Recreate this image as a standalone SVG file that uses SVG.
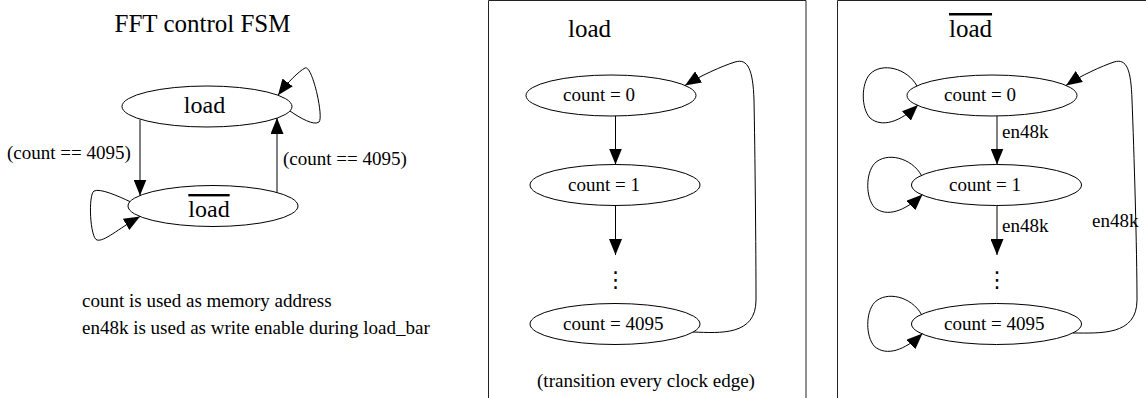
<svg xmlns="http://www.w3.org/2000/svg" width="1146" height="398" viewBox="0 0 1146 398">
  <defs>
    <marker id="arrow" viewBox="0 0 16 13" refX="16" refY="6.5" markerWidth="16" markerHeight="13" markerUnits="userSpaceOnUse" orient="auto">
      <path d="M0,0 L16,6.5 L0,13 Z" fill="#000"/>
    </marker>
  </defs>
  <style>
    text { font-family: "Liberation Serif", "Times New Roman", serif; fill: #000; }
    .state { fill: #fff; stroke: #000; stroke-width: 1; }
    .edge { fill: none; stroke: #000; stroke-width: 1; marker-end: url(#arrow); }
    .panel { fill: none; stroke: #222; stroke-width: 1; }
    .title { font-size: 25px; }
    .big { font-size: 24px; }
    .lbl { font-size: 19px; }
    .bar { text-decoration: overline; }
    .dots { font-family: "DejaVu Serif", "DejaVu Sans", serif; font-size: 22px; }
  </style>
  <rect width="1146" height="398" fill="#fff"/>

  <!-- left: top-level FSM -->
  <text class="title" x="202.5" y="32" text-anchor="middle">FFT control FSM</text>
  <g id="fsm-load">
    <ellipse class="state" cx="207" cy="106.5" rx="85" ry="20.5"/>
    <text class="big" x="204.5" y="112.5" text-anchor="middle">load</text>
  </g>
  <g id="fsm-load-bar">
    <ellipse class="state" cx="213" cy="206" rx="85" ry="20.5"/>
    <text class="big bar" x="209" y="217" text-anchor="middle">load</text>
  </g>
  <g id="notes">
    <text class="lbl" x="82" y="307">count is used as memory address</text>
    <text class="lbl" x="82" y="334">en48k is used as write enable during load_bar</text>
  </g>

  <!-- middle panel: counting while load -->
  <path class="panel" d="M488.5,400 L488.5,0.5 L806,0.5 L806,400"/>
  <text class="title" x="568" y="37">load</text>
  <g id="load-c0">
    <ellipse class="state" cx="611" cy="95.5" rx="85" ry="20.5"/>
    <text class="lbl" x="563" y="101">count = 0</text>
  </g>
  <g id="load-c1">
    <ellipse class="state" cx="615" cy="185" rx="85" ry="20.5"/>
    <text class="lbl" x="568" y="190.5">count = 1</text>
  </g>
  <g id="load-dots">
    <text class="dots" x="615.5" y="287" text-anchor="middle">⋮</text>
  </g>
  <g id="load-c4095">
    <ellipse class="state" cx="615" cy="324" rx="85" ry="20.5"/>
    <text class="lbl" x="563" y="330">count = 4095</text>
  </g>
  <text class="lbl" x="646" y="387" text-anchor="middle">(transition every clock edge)</text>

  <!-- right panel: counting while load is low -->
  <path class="panel" d="M837.5,400 L837.5,0.5 L1150,0.5"/>
  <text class="title bar" x="949" y="37">load</text>
  <g id="bar-c0">
    <ellipse class="state" cx="992" cy="95.5" rx="85" ry="20.5"/>
    <text class="lbl" x="944" y="101">count = 0</text>
  </g>
  <g id="bar-c1">
    <ellipse class="state" cx="996.5" cy="185" rx="85" ry="20.5"/>
    <text class="lbl" x="949" y="190.5">count = 1</text>
  </g>
  <g id="bar-dots">
    <text class="dots" x="997" y="287" text-anchor="middle">⋮</text>
  </g>
  <g id="bar-c4095">
    <ellipse class="state" cx="996.5" cy="324" rx="85" ry="20.5"/>
    <text class="lbl" x="944" y="330">count = 4095</text>
  </g>

  <g id="connectors">
    <!-- top-level transitions -->
    <path class="edge" d="M140,119.5 L140,195.5"/>
    <text class="lbl" x="7" y="159">(count == 4095)</text>
    <path class="edge" d="M277,192.5 L277,118"/>
    <text class="lbl" x="283" y="165">(count == 4095)</text>
    <path class="edge" d="M290,111 C300,118 314,126 319,122 C324,117 312,64 305,68 C298,72 288,82 278,95.2"/>
    <path class="edge" d="M130,201.6 C118,196 100,188 94,191 C88,195 90,238 97,240 C104,242 118,229 140,216.5"/>

    <!-- load: chain -->
    <path class="edge" d="M615.5,116 L615.5,164.5"/>
    <path class="edge" d="M615.5,205.5 L615.5,255"/>
    <path class="edge" d="M693,332 C720,333 756,336 756,300 C756,250 755,150 754,100 C753,70 748,58 735,62 C722,66 700,76 685,85.4"/>

    <!-- load bar: chain with holds -->
    <path class="edge" d="M997,116 L997,164.5"/>
    <text class="lbl" x="1002" y="138">en48k</text>
    <path class="edge" d="M997,205.5 L997,255"/>
    <text class="lbl" x="1002" y="232">en48k</text>
    <path class="edge" d="M1073,333 C1100,333 1137,336 1137,300 C1137,250 1134,150 1132,100 C1131,70 1127,58 1114,62 C1102,66 1080,76 1066,85.4"/>
    <text class="lbl" x="1092" y="227">en48k</text>
    <path class="edge" d="M917,86 C907,68 882,62 870,74 C861,84 861,108 870,118 C882,128 900,122 918,105"/>
    <path class="edge" d="M921.5,175.5 C911.5,157.5 886.5,151.5 874.5,163.5 C865.5,173.5 865.5,197.5 874.5,207.5 C886.5,217.5 904.5,211.5 922.5,194.5"/>
    <path class="edge" d="M921.5,314.5 C911.5,296.5 886.5,290.5 874.5,302.5 C865.5,312.5 865.5,336.5 874.5,346.5 C886.5,356.5 904.5,350.5 922.5,333.5"/>
  </g>
</svg>
